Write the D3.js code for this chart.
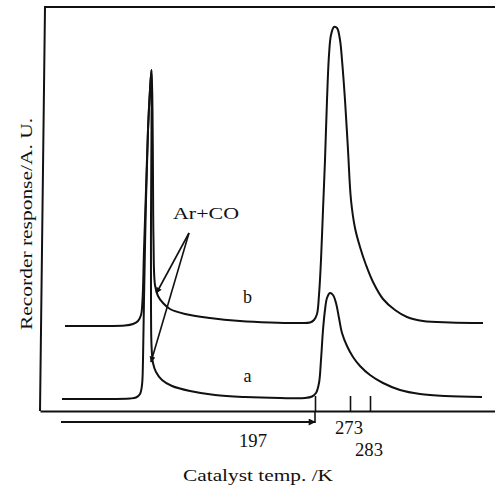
<!DOCTYPE html>
<html><head><meta charset="utf-8">
<script src="https://cdn.jsdelivr.net/npm/d3@7/dist/d3.min.js"></script>
<style>body{margin:0;background:#fff}svg{display:block}text{font-family:"Liberation Serif","Times New Roman",serif;fill:#111}</style>
</head><body>
<script>
// chart units: x = recorder position, y = response (A. U.)
const curveB_x = [5,12,17,18.6,19.6,20.2,20.5,20.8,21.2,21.6,22,22.3,22.5,22.6,22.7,23,23.6,24.6,26,29,34,40,46,52,54,54.8,55.4,55.8,56.2,56.6,57,57.4,57.8,58.2,58.8,59.4,60,60.4,61,61.6,62.2,63,64,65.2,66.6,68.6,71,73.4,76.6,82,88.6];
const curveB_y = [17,17,17.1,17.4,18,19.2,22.2,32.2,44.2,56.2,64.2,68.2,60.2,46.2,34.2,25.2,23,21.6,20.4,19.4,18.6,18,17.7,17.6,17.7,18.2,19.4,23.2,30.2,40.2,50.2,62.2,71.2,75.2,76.8,76.6,74.2,70.2,62.2,52.2,42.2,36.6,32.8,29.2,25.8,22.4,20.2,18.8,18,17.7,17.6];
const curveA_x = [4.4,12,18,19.2,20,20.4,20.6,20.8,21.2,21.6,22,22.3,22.3,22.2,22.2,22.3,22.6,23.2,24.4,26.4,30,35,41,48,53,54.4,55.2,55.8,56.2,56.6,57,57.4,58,58.6,59.2,59.8,60.4,61.4,62.6,64,66,68.6,72,76,81,88.4];
const curveA_y = [2.4,2.4,2.5,2.7,3.4,5.2,10.2,22.2,42.2,56.2,64.2,68.2,56.2,38.2,22.2,13.2,9.6,7.8,6.2,5,4,3.2,2.8,2.6,2.6,2.9,3.6,5.6,10.2,16.2,20.2,22.6,23.6,23.2,21.6,18.6,15.6,13,10.8,9,7.2,5.6,4.2,3.4,3,2.8];
const tickValues = [55, 62, 66];
const tickLabels = ["197", "273", "283"];
const seriesLabels = ["b", "a"];
const annotation = "Ar+CO";
const xTitle = "Catalyst temp. /K";
const yTitle = "Recorder response/A. U.";

const W = 495, H = 486;
const svg = d3.select("body").append("svg").attr("width", W).attr("height", H);
const x = d3.scaleLinear().domain([0, 91]).range([40, 495]);
const y = d3.scaleLinear().domain([0, 80.8]).range([411, 7]);

const defs = svg.append("defs");
defs.append("marker").attr("id","ah").attr("viewBox","0 0 10 10").attr("refX",9).attr("refY",5)
  .attr("markerWidth",9).attr("markerHeight",7).attr("orient","auto").attr("markerUnits","userSpaceOnUse")
  .append("path").attr("d","M0,0L10,5L0,10z").attr("fill","#111");
defs.append("marker").attr("id","ah2").attr("viewBox","0 0 10 10").attr("refX",9).attr("refY",5)
  .attr("markerWidth",7).attr("markerHeight",6).attr("orient","auto").attr("markerUnits","userSpaceOnUse")
  .append("path").attr("d","M0,0L10,5L0,10z").attr("fill","#111");

function txt(s, cx, baseline, len, size){
  return svg.append("text").attr("x", cx - len/2).attr("y", baseline).attr("font-size", size)
    .attr("textLength", len).attr("lengthAdjust", "spacingAndGlyphs").text(s);
}

// frame
svg.append("path").attr("d", `M${x(91)},${y(80.8)}L${x(1)},${y(80.8)}L${x(0)},${y(0)}`)
  .attr("fill","none").attr("stroke","#111").attr("stroke-width",2);
const xAxis = d3.axisBottom(x).tickValues(tickValues).tickSizeInner(-15).tickSizeOuter(0).tickFormat("");
const gx = svg.append("g").attr("transform",`translate(0,${y(0)})`).call(xAxis);
gx.select(".domain").attr("stroke","#111").attr("stroke-width",2);
gx.selectAll(".tick line").attr("stroke","#111").attr("stroke-width",1.6);
// tick labels (staggered)
const lblOff = [[-62, 36], [-1, 23], [-1, 45]];
tickLabels.forEach((t,i)=>{
  txt(t, x(tickValues[i]) + lblOff[i][0], y(0) + lblOff[i][1], 28, 18);
});
svg.append("line").attr("x1",x(55)).attr("x2",x(55)).attr("y1",y(0)).attr("y2",y(0)+12)
  .attr("stroke","#111").attr("stroke-width",1.6);
// temperature ramp arrow
svg.append("line").attr("x1",x(4.2)).attr("x2",x(55)).attr("y1",y(0)+11).attr("y2",y(0)+11)
  .attr("stroke","#111").attr("stroke-width",2).attr("marker-end","url(#ah)");

// curves
const line = d3.line().x(d=>x(d[0])).y(d=>y(d[1])).curve(d3.curveCatmullRom.alpha(0.5));
[[curveB_x,curveB_y],[curveA_x,curveA_y]].forEach(([xs,ys])=>{
  svg.append("path").datum(xs.map((v,i)=>[v,ys[i]])).attr("d",line)
    .attr("fill","none").attr("stroke","#111").attr("stroke-width",2).attr("stroke-linejoin","round");
});
// series labels
svg.append("text").attr("x",x(41.5)).attr("y",y(21.6)).attr("text-anchor","middle").attr("font-size",18).text(seriesLabels[0]);
svg.append("text").attr("x",x(41.5)).attr("y",y(5.8)).attr("text-anchor","middle").attr("font-size",18).text(seriesLabels[1]);

// annotation
txt(annotation, 206, 219, 66, 17);
const apex = [29.8, 35.6];
[[23.3, 23.6],[22.2, 9.8]].forEach(p=>{
  svg.append("line").attr("x1",x(apex[0])).attr("y1",y(apex[1])).attr("x2",x(p[0])).attr("y2",y(p[1]))
    .attr("stroke","#111").attr("stroke-width",1.6).attr("marker-end","url(#ah2)");
});

// titles
txt(xTitle, 258, 481, 150, 17);
svg.append("text").attr("transform",`translate(32,224) rotate(-90)`).attr("x",-106).attr("font-size",17)
  .attr("textLength",212).attr("lengthAdjust","spacingAndGlyphs").text(yTitle);
</script>
</body></html>
